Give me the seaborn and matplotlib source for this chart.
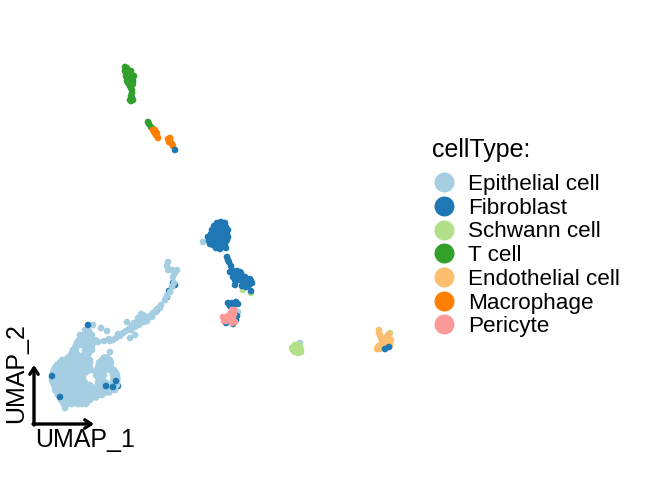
import pandas as pd
import matplotlib
matplotlib.use('Agg')
import matplotlib.pyplot as plt
import seaborn as sns

CELL_TYPES = ['Epithelial cell', 'Fibroblast', 'Schwann cell', 'T cell',
              'Endothelial cell', 'Macrophage', 'Pericyte']
COLORS = ['#A6CEE3', '#1F78B4', '#B2DF8A', '#33A02C', '#FDBF6F', '#FF7F00', '#FB9A99']

# UMAP positions, one list of (umap_1, umap_2) per group
epithelial_tail = [
    (16.8, 21.8), (16.7, 21.4), (16.8, 21.0), (17.7, 21.0), (17.5, 20.7), (17.3, 20.3),
    (17.4, 19.7), (17.2, 19.3), (17.0, 18.8), (16.7, 18.4), (16.5, 18.0), (16.1, 17.5),
    (15.7, 17.1), (15.3, 16.7), (15.0, 16.4), (14.6, 16.3), (14.3, 16.5), (14.0, 16.0),
    (13.8, 15.7), (13.5, 15.3), (13.1, 15.0), (13.7, 15.6), (12.3, 14.7), (12.0, 14.4),
    (11.6, 14.2), (11.3, 14.0), (11.0, 13.9), (10.4, 13.9), (9.8, 13.8), (9.7, 13.9),
    (12.7, 15.8), (13.0, 14.2), (13.5, 14.5), (10.1, 15.2), (10.7, 14.9), (11.0, 12.8),
    (9.3, 15.5), (8.9, 14.9), (8.5, 15.0), (14.2, 16.0), (14.7, 15.9), (12.9, 15.1),
    (14.1, 16.6), (13.8, 16.2), (14.4, 15.8), (13.4, 15.7), (13.2, 15.4), (13.9, 15.5),
    (12.6, 14.9), (15.2, 16.3), (15.6, 16.8), (16.0, 17.2), (17.2, 21.0), (11.8, 14.6),
    (10.9, 14.1),
]
epithelial_rows_y = [14.5, 14.25, 14.0, 13.75, 13.5, 13.25, 13.0, 12.75, 12.5, 12.25, 12.0, 11.75,
                     11.5, 11.25, 11.0, 10.75, 10.5, 10.25, 10.0, 9.75, 9.5, 9.25, 9.0, 8.75,
                     8.5, 8.25, 8.0, 7.8, 7.6, 7.2]
epithelial_rows_x = [
    [8.0, 8.4, 8.8, 9.2],
    [8.2, 8.6, 9.0],
    [7.9, 8.3, 8.7, 9.1, 9.5],
    [7.7, 8.1, 8.5, 8.9, 9.3],
    [7.6, 8.0, 8.4, 8.8, 9.2],
    [7.5, 8.7, 9.1],
    [7.3, 7.6, 8.5, 8.9, 9.2],
    [7.2, 7.5, 8.5, 8.9],
    [7.1, 7.5, 7.8, 8.4, 8.8],
    [6.8, 7.2, 7.6, 8.0, 8.4, 8.8, 10.4, 10.7],
    [6.2, 6.6, 7.0, 7.4, 7.8, 8.2, 8.6, 9.0, 10.2, 10.6, 11.0],
    [6.0, 6.4, 6.8, 7.2, 7.6, 8.0, 8.4, 8.8, 9.0, 9.9, 10.4, 10.8, 11.1],
    [5.7, 6.1, 6.5, 6.9, 7.3, 7.8, 8.2, 8.7, 9.9, 10.3, 10.7, 11.0],
    [5.5, 5.9, 6.3, 6.7, 7.1, 7.5, 7.9, 8.3, 8.7, 9.0, 9.8, 10.2, 10.6, 11.1],
    [5.4, 5.8, 6.2, 6.7, 7.1, 7.6, 8.0, 8.4, 8.8, 9.1, 9.7, 10.1, 10.5, 11.0, 11.4],
    [5.3, 5.7, 6.1, 6.5, 6.9, 7.3, 7.7, 8.1, 8.6, 9.6, 10.0, 10.4, 11.3, 11.6],
    [5.3, 5.7, 6.1, 6.5, 6.9, 7.3, 7.8, 8.2, 9.6, 10.0, 10.4, 11.3, 11.7],
    [5.2, 5.6, 6.0, 6.4, 6.8, 7.2, 7.6, 8.0, 8.3, 9.8, 10.2, 11.4, 11.7],
    [5.2, 5.6, 6.0, 6.4, 6.8, 7.2, 7.6, 8.0, 8.3, 9.9, 10.3, 11.3, 11.7],
    [5.3, 5.7, 6.1, 6.5, 6.9, 7.3, 7.7, 8.1, 8.5, 9.8, 10.2, 10.6, 11.3, 11.7],
    [5.4, 5.8, 6.2, 6.6, 7.0, 7.4, 7.8, 8.2, 8.6, 9.0, 9.8, 10.2, 10.6, 11.0, 11.4, 11.7],
    [5.5, 5.9, 6.3, 6.7, 7.1, 7.5, 7.9, 8.3, 8.7, 9.1, 9.5, 9.9, 10.3, 10.7, 11.1, 11.5],
    [5.5, 5.9, 6.3, 6.7, 7.1, 7.5, 7.9, 8.3, 8.7, 9.1, 9.5, 10.0, 10.4, 10.8, 11.2, 11.5],
    [5.7, 6.1, 6.5, 6.9, 7.3, 7.7, 8.1, 8.5, 8.9, 9.3, 9.7, 10.1, 10.5, 10.9],
    [5.8, 6.2, 6.6, 7.0, 7.4, 7.8, 8.2, 8.6, 9.0, 9.4, 9.8, 10.2],
    [6.0, 6.4, 6.8, 7.2, 7.6, 8.0, 8.4, 8.8, 9.2, 9.6],
    [6.1, 6.5, 6.9, 7.3, 7.7, 8.1, 8.5, 9.0],
    [6.3, 6.7, 7.1, 7.5, 7.9, 8.3, 8.7],
    [6.4, 6.8, 7.2, 7.8, 8.2, 8.6],
    [6.5],
]
epithelial_other = [(20.3, 23.8), (23.8, 16.8), (30.0, 13.7)]

fibroblast_hidden = [
    (17.3, 19.7), (17.5, 19.5), (16.7, 18.3), (15.7, 17.0), (7.6, 10.6), (11.7, 10.2),
    (10.0, 9.6), (11.8, 9.4), (16.9, 18.9), (13.1, 40.6), (13.3, 39.9), (13.2, 38.2),
]
fibroblast_top = [
    (8.8, 15.5), (5.2, 10.4), (6.0, 8.3), (10.6, 9.4), (11.6, 9.9), (11.3, 9.3),
    (17.5, 33.0),
    (21.7, 25.7), (22.1, 25.8), (22.5, 25.7), (21.4, 25.4), (21.8, 25.4), (22.2, 25.4),
    (22.6, 25.3), (21.2, 25.0), (21.6, 25.0), (22.0, 25.0), (22.4, 25.0), (22.8, 25.0),
    (21.1, 24.6), (21.5, 24.6), (21.9, 24.6), (22.3, 24.6), (22.7, 24.6), (21.3, 24.3),
    (21.7, 24.2), (22.1, 24.2), (22.5, 24.2), (22.8, 24.3), (21.0, 24.0), (21.4, 23.9),
    (21.8, 23.8), (22.2, 23.8), (22.6, 23.9), (21.0, 23.6), (21.3, 23.5), (21.7, 23.4),
    (22.1, 23.4), (22.5, 23.6), (21.9, 24.0), (20.8, 24.3), (20.9, 23.9), (22.7, 24.0),
    (22.6, 23.2), (22.0, 23.1), (21.6, 23.2),
    (22.7, 22.3), (22.8, 22.0), (22.9, 21.8), (23.1, 21.4), (23.2, 21.0), (23.0, 20.8),
    (23.4, 20.7), (23.7, 20.9), (24.0, 20.8), (23.3, 20.3), (23.7, 20.4), (24.1, 20.4),
    (24.5, 20.3), (23.5, 20.0), (24.0, 20.0), (24.4, 20.0), (24.8, 19.9), (25.0, 20.1),
    (24.3, 19.7), (24.7, 19.6), (25.1, 19.9), (23.6, 19.9), (23.5, 19.5), (24.6, 19.3),
    (24.9, 19.5), (25.1, 18.9), (24.2, 19.4), (25.2, 19.7), (24.1, 20.7),
    (22.8, 17.7), (23.2, 17.7), (23.6, 17.8), (23.8, 17.6), (22.6, 15.7), (23.7, 16.4),
    (23.0, 17.4), (23.4, 17.5), (23.3, 15.6), (23.6, 16.0),
]
schwann = [
    (29.4, 13.3), (29.7, 13.5), (30.0, 13.3), (29.3, 13.0), (29.7, 13.1), (30.1, 13.0),
    (29.5, 12.8), (29.8, 12.7), (29.6, 13.3), (29.2, 13.2), (30.1, 12.8), (29.9, 13.5),
    (29.5, 13.5), (25.1, 18.7), (24.3, 19.0), (39.0, 14.7),
]
t_cell = [
    (12.5, 41.3), (12.7, 41.2), (12.8, 41.0), (12.6, 40.7), (13.0, 40.7), (13.4, 40.4),
    (12.7, 40.2), (13.2, 40.0), (12.8, 39.7), (13.3, 39.6), (13.1, 39.2), (13.2, 38.7),
    (13.0, 38.0), (13.3, 38.0), (12.6, 41.0), (12.9, 40.4), (13.0, 40.2), (13.1, 39.5),
    (12.6, 40.4), (13.2, 40.5), (12.9, 39.9), (13.0, 39.4), (13.2, 39.0), (13.1, 38.4),
    (12.5, 40.9), (13.1, 40.9), (13.3, 40.2), (12.7, 39.9), (13.1, 37.9),
    (14.8, 35.8), (14.9, 35.6), (15.1, 35.3), (15.3, 35.1),
]
endothelial = [
    (37.9, 15.0), (37.9, 14.7), (38.0, 14.5), (38.1, 14.2), (38.2, 14.0), (38.5, 14.2),
    (38.8, 14.5), (39.1, 14.0), (39.0, 13.7), (38.7, 13.5), (38.2, 13.7), (37.9, 13.4),
    (37.8, 13.3), (37.7, 13.1), (38.0, 13.1), (38.3, 13.3), (38.3, 13.7), (38.6, 13.8),
    (38.9, 14.6), (39.0, 13.4), (38.0, 13.5),
]
endothelial_fibroblast = [(38.5, 13.1), (38.9, 13.3)]
macrophage = [
    (15.3, 35.0), (15.4, 34.8), (15.5, 34.7), (15.6, 34.5), (15.7, 34.4), (15.5, 35.0),
    (15.8, 34.2), (15.7, 34.7),
    (16.8, 34.1), (17.0, 34.2), (17.0, 34.0), (17.1, 33.7), (17.3, 33.4), (16.9, 33.8),
    (17.2, 33.6),
]
pericyte = [
    (22.3, 16.3), (22.4, 15.9), (22.6, 15.9), (22.8, 16.4), (23.2, 17.0), (23.3, 16.3),
    (23.2, 15.7), (23.5, 15.8), (23.4, 16.6), (23.1, 16.7), (23.1, 16.0), (23.4, 17.0),
]

AXIS_NAMES = ['UMAP_1', 'UMAP_2']


def make_frame():
    """Stack the groups so that draw order follows the frame order."""
    body = [(x, y) for y, xs in zip(epithelial_rows_y, epithelial_rows_x) for x in xs]
    groups = [
        ('Fibroblast', fibroblast_hidden),
        ('Epithelial cell', epithelial_tail + body + epithelial_other),
        ('Schwann cell', schwann),
        ('T cell', t_cell),
        ('Endothelial cell', endothelial),
        ('Macrophage', macrophage),
        ('Fibroblast', fibroblast_top + endothelial_fibroblast),
        ('Pericyte', pericyte),
    ]
    frames = [pd.DataFrame(pts, columns=AXIS_NAMES).assign(cellType=name) for name, pts in groups]
    return pd.concat(frames, ignore_index=True)


def main():
    sns.set_style('white')
    plt.rcParams['font.family'] = ['Liberation Sans', 'DejaVu Sans']
    plt.rcParams['text.color'] = 'black'

    fig = plt.figure(figsize=(6.5, 4.8), dpi=100)
    axis = fig.add_axes([0, 0, 1, 1])
    sns.scatterplot(
        data=make_frame(), x='UMAP_1', y='UMAP_2', hue='cellType',
        hue_order=CELL_TYPES, palette=COLORS, s=23, linewidth=0, ax=axis,
    )
    axis.set_xlim(0, 65)
    axis.set_ylim(0, 48)
    axis.axis('off')

    handles, labels = axis.get_legend_handles_labels()
    legend = axis.legend(
        handles, labels, title='cellType:', title_fontsize=18, fontsize=16.2,
        frameon=False, loc='upper left', bbox_to_anchor=(0.665, 0.712),
        markerscale=3.0, labelspacing=0.12, handlelength=1.0, handletextpad=0.6,
        borderpad=0, borderaxespad=0, alignment='left',
    )
    legend._legend_box.sep = 8.5

    arrow = dict(arrowstyle='->,head_length=0.45,head_width=0.3', color='black', lw=2.4,
                 shrinkA=0, shrinkB=0)
    axis.annotate('', xy=(9.4, 5.6), xytext=(3.3, 5.6), arrowprops=arrow)
    axis.annotate('', xy=(3.4, 11.5), xytext=(3.4, 5.5), arrowprops=arrow)
    axis.text(3.5, 3.95, 'UMAP_1', fontsize=18, ha='left', va='center')
    axis.text(1.6, 5.7, 'UMAP_2', fontsize=18, rotation=90, ha='center', va='bottom')

    fig.savefig('out.png', dpi=100)
    plt.close(fig)


if __name__ == "__main__":
    main()
